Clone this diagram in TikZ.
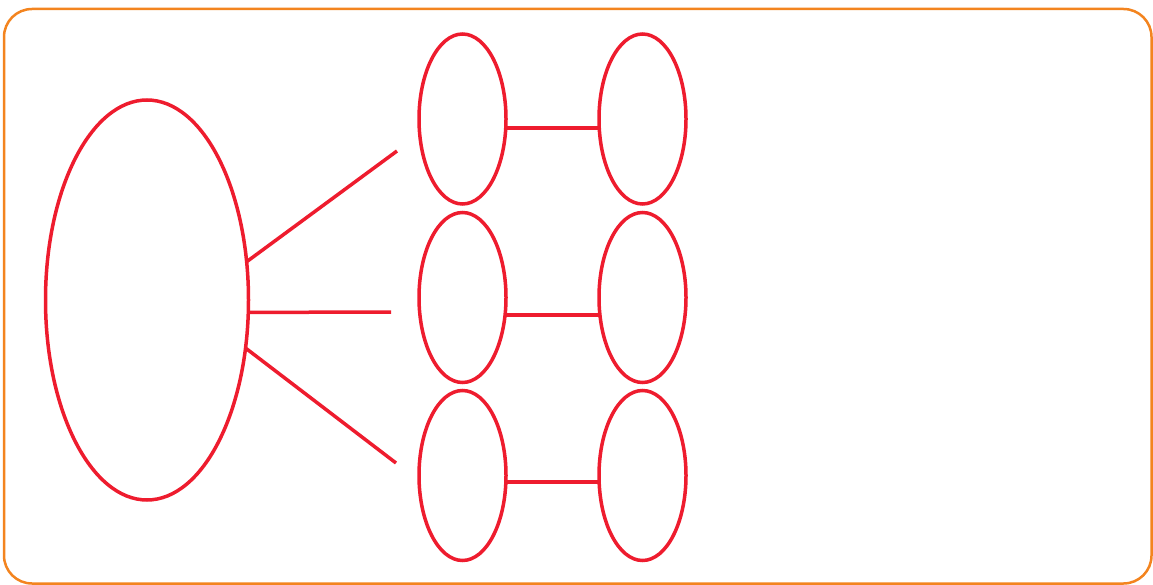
\documentclass[tikz,border=0pt]{standalone}
\usetikzlibrary{shapes.geometric}
\definecolor{frameorange}{HTML}{F3841F}
\definecolor{ellred}{HTML}{EE1C2E}
\begin{document}
\begin{tikzpicture}[x=1pt,y=-1pt,
  ell/.style={ellipse,draw=ellred,line width=3.5pt,inner sep=0pt,outer sep=0pt},
  small/.style={ell,minimum width=87pt,minimum height=170pt},
  link/.style={draw=ellred,line width=3.5pt}]
\useasboundingbox (0,0) rectangle (1153,585);
\draw[frameorange,line width=2.5pt,rounded corners=28pt] (4,9) rectangle (1151.5,583.5);
\node[ell,minimum width=203pt,minimum height=400pt] (big) at (147,300) {};
\node[small] (a1) at (462.5,119) {};
\node[small] (a2) at (462.5,297.5) {};
\node[small] (a3) at (462.5,475.5) {};
\node[small] (b1) at (642.5,119) {};
\node[small] (b2) at (642.5,297.5) {};
\node[small] (b3) at (642.5,475.5) {};
\coordinate (e1) at (397,151);
\coordinate (e2) at (391,312);
\coordinate (e3) at (396,463);
\draw[link] (big.21) -- (e1);
\draw[link] (big.-7) -- (e2);
\draw[link] (big.-26) -- (e3);
\draw[link] ([yshift=-9pt]a1.east) -- ([yshift=-9pt]b1.west);
\draw[link] ([yshift=-17.5pt]a2.east) -- ([yshift=-17.5pt]b2.west);
\draw[link] ([yshift=-6.5pt]a3.east) -- ([yshift=-6.5pt]b3.west);
\end{tikzpicture}
\end{document}
